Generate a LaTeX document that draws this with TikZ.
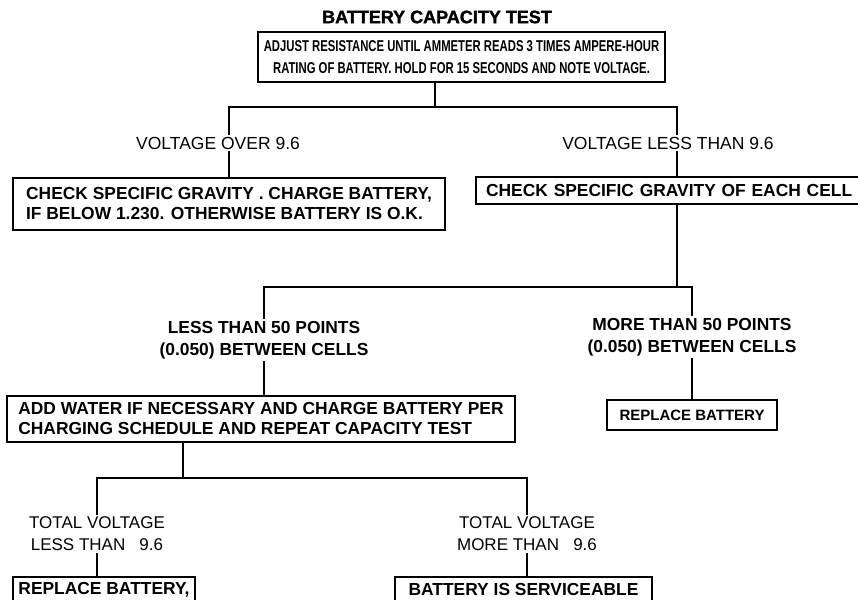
\documentclass[tikz,border=0pt]{standalone}
\usepackage{fontspec}
\setmainfont{Liberation Sans}
\newfontfamily\narrowfont[FakeStretch=0.72]{Liberation Sans}
\newfontfamily\heavyfont[FakeBold=1.5]{Liberation Sans}
\usepackage{tikz}
\usetikzlibrary{positioning,calc}
\tikzset{
  bx/.style={rectangle,draw,line width=2.2pt,inner sep=0pt,align=center,font=\bfseries\fontsize{17.4}{20}\selectfont},
  lb/.style={inner sep=2pt,align=center,font=\fontsize{17.5}{22}\selectfont},
  lbb/.style={lb,font=\bfseries\fontsize{17.4}{22}\selectfont},
  ln/.style={line width=1.8pt},
}

\begin{document}
\begin{tikzpicture}[x=1pt,y=-1pt]
  \useasboundingbox (0,0) rectangle (858,599);
  \clip (0,0) rectangle (858,599);
  \node[font=\heavyfont\bfseries\fontsize{18}{20}\selectfont] (title) at (437,17) {BATTERY CAPACITY TEST};
  \node[bx,minimum width=407pt,minimum height=50pt,font=\narrowfont\bfseries\fontsize{15.7}{22}\selectfont] (top) at (461.5,57) {ADJUST RESISTANCE UNTIL AMMETER READS 3 TIMES AMPERE-HOUR\\RATING OF BATTERY. HOLD FOR 15 SECONDS AND NOTE VOLTAGE.};
  \node[lb] (lvOver) at (218,143) {VOLTAGE OVER 9.6};
  \node[lb] (lvLess) at (668,143) {VOLTAGE LESS THAN 9.6};
  \node[bx,minimum width=432pt,minimum height=52pt,align=left] (okbox) at (229,204) {CHECK SPECIFIC GRAVITY . CHARGE BATTERY,\\IF BELOW 1.230. OTHERWISE BATTERY IS O.K.};
  \node[bx,anchor=west,minimum height=27pt,text width=390pt,inner xsep=10pt,align=left] (cellbox) at (475,190.5) {CHECK SPECIFIC GRAVITY OF EACH CELL};
  \node[lbb] (lt50) at (264,340) {LESS THAN 50 POINTS\\(0.050) BETWEEN CELLS};
  \node[lbb] (mt50) at (692,337) {MORE THAN 50 POINTS\\(0.050) BETWEEN CELLS};
  \node[bx,minimum width=508pt,minimum height=46pt,align=left] (addbox) at (261,419) {ADD WATER IF NECESSARY AND CHARGE BATTERY PER\\CHARGING SCHEDULE AND REPEAT CAPACITY TEST};
  \node[bx,minimum width=170pt,minimum height=30pt,font=\bfseries\fontsize{15}{18}\selectfont] (repl1) at (692,415) {REPLACE BATTERY};
  \node[lb,font=\fontsize{17}{22}\selectfont] (tvLess) at (97,534) {TOTAL VOLTAGE\\LESS THAN \ \ 9.6};
  \node[lb,font=\fontsize{17}{22}\selectfont] (tvMore) at (527,534) {TOTAL VOLTAGE\\MORE THAN \ \ 9.6};
  \node[bx,minimum width=182pt,minimum height=26pt] (repl2) at (104,590) {REPLACE BATTERY,};
  \node[bx,minimum width=257pt,minimum height=26pt] (serv) at (523.5,590) {BATTERY IS SERVICEABLE};
  % branch points
  \coordinate (j1) at (435,107);
  \coordinate (j2) at (677,287);
  \coordinate (j3) at (183,478);
  \draw[ln] (top.south -| j1) -- (j1);
  \draw[ln] (lvOver.north -| okbox.north) |- (j1) -| (lvLess.north -| j2);
  \draw[ln] (lvOver.south -| okbox.north) -- (okbox.north);
  \draw[ln] (lvLess.south -| j2) -- (cellbox.north -| j2);
  \draw[ln] (cellbox.south -| j2) -- (j2);
  \draw[ln] (lt50.north) |- (j2) -| (mt50.north);
  \draw[ln] (lt50.south) -- (addbox.north -| lt50.south);
  \draw[ln] (mt50.south) -- (repl1.north);
  \draw[ln] (addbox.south -| j3) -- (j3);
  \draw[ln] (tvLess.north) |- (j3) -| (tvMore.north);
  \draw[ln] (tvLess.south) -- (repl2.north -| tvLess.south);
  \draw[ln] (tvMore.south) -- (serv.north -| tvMore.south);
\end{tikzpicture}
\end{document}
